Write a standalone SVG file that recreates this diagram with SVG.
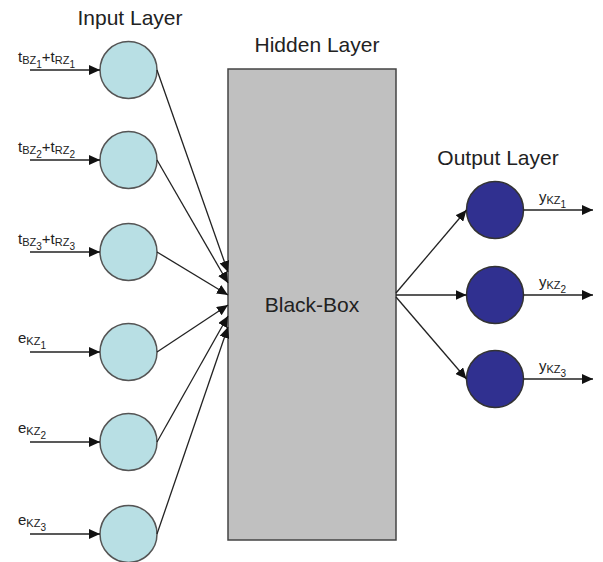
<svg xmlns="http://www.w3.org/2000/svg" width="603" height="562" viewBox="0 0 603 562">
<defs>
<style>
.t{font-family:"Liberation Sans",Arial,sans-serif;fill:#222}
.title{font-size:21px;text-anchor:middle}
.lbl{font-size:15px}
.s1{font-size:11px}
.s2{font-size:10px}
.in{fill:#b8dfe4;stroke:#555;stroke-width:1.5}
.out{fill:#303090;stroke:#333;stroke-width:1.5}
.box{fill:#c0c0c0;stroke:#444;stroke-width:1.5}
.c line{stroke:#222;stroke-width:1.3;marker-end:url(#ah)}
</style>
<marker id="ah" markerUnits="userSpaceOnUse" markerWidth="11" markerHeight="10" refX="11" refY="5" orient="auto">
<path d="M0,0 L11,5 L0,10 z" fill="#111"/>
</marker>
</defs>
<rect width="603" height="562" fill="#fff"/>
<text class="t title" x="130" y="25">Input Layer</text>
<text class="t title" x="317" y="52">Hidden Layer</text>
<text class="t title" x="498" y="165">Output Layer</text>
<g id="hidden"><rect class="box" x="228" y="69" width="168" height="471"/><text class="t title" x="312" y="312">Black-Box</text></g>
<g id="in1"><circle class="in" cx="128.5" cy="70" r="28.5"/></g>
<g id="in2"><circle class="in" cx="128.5" cy="160" r="28.5"/></g>
<g id="in3"><circle class="in" cx="128.5" cy="252" r="28.5"/></g>
<g id="in4"><circle class="in" cx="128.5" cy="352" r="28.5"/></g>
<g id="in5"><circle class="in" cx="128.5" cy="442" r="28.5"/></g>
<g id="in6"><circle class="in" cx="128.5" cy="534" r="28.5"/></g>
<g id="out1"><circle class="out" cx="495" cy="210" r="28.5"/></g>
<g id="out2"><circle class="out" cx="495" cy="295" r="28.5"/></g>
<g id="out3"><circle class="out" cx="495" cy="379" r="28.5"/></g>
<g id="labels">
<text class="t lbl" x="18" y="62">t<tspan class="s1" dy="2">BZ</tspan><tspan class="s2" dy="4">1</tspan><tspan dy="-6">+t</tspan><tspan class="s1" dy="2">RZ</tspan><tspan class="s2" dy="4">1</tspan></text>
<text class="t lbl" x="18" y="152">t<tspan class="s1" dy="2">BZ</tspan><tspan class="s2" dy="4">2</tspan><tspan dy="-6">+t</tspan><tspan class="s1" dy="2">RZ</tspan><tspan class="s2" dy="4">2</tspan></text>
<text class="t lbl" x="18" y="244">t<tspan class="s1" dy="2">BZ</tspan><tspan class="s2" dy="4">3</tspan><tspan dy="-6">+t</tspan><tspan class="s1" dy="2">RZ</tspan><tspan class="s2" dy="4">3</tspan></text>
<text class="t lbl" x="18" y="343">e<tspan class="s1" dy="2">KZ</tspan><tspan class="s2" dy="4">1</tspan></text>
<text class="t lbl" x="18" y="433">e<tspan class="s1" dy="2">KZ</tspan><tspan class="s2" dy="4">2</tspan></text>
<text class="t lbl" x="18" y="525">e<tspan class="s1" dy="2">KZ</tspan><tspan class="s2" dy="4">3</tspan></text>
<text class="t lbl" x="539" y="202">y<tspan class="s1" dy="2">KZ</tspan><tspan class="s2" dy="4">1</tspan></text>
<text class="t lbl" x="539" y="287">y<tspan class="s1" dy="2">KZ</tspan><tspan class="s2" dy="4">2</tspan></text>
<text class="t lbl" x="539" y="371">y<tspan class="s1" dy="2">KZ</tspan><tspan class="s2" dy="4">3</tspan></text>
</g>
<g id="connectors" class="c">
<line x1="30" y1="70" x2="100" y2="70"/>
<line x1="30" y1="160" x2="100" y2="160"/>
<line x1="30" y1="252" x2="100" y2="252"/>
<line x1="30" y1="352" x2="100" y2="352"/>
<line x1="30" y1="442" x2="100" y2="442"/>
<line x1="30" y1="534" x2="100" y2="534"/>
<line x1="157" y1="70" x2="228" y2="272"/>
<line x1="157" y1="160" x2="228" y2="283"/>
<line x1="157" y1="252" x2="228" y2="295"/>
<line x1="157" y1="352" x2="228" y2="305"/>
<line x1="157" y1="442" x2="228" y2="316"/>
<line x1="157" y1="534" x2="228" y2="327"/>
<line x1="396" y1="293" x2="466.5" y2="210"/>
<line x1="396" y1="295" x2="466.5" y2="295"/>
<line x1="396" y1="297" x2="466.5" y2="379"/>
<line x1="523.5" y1="210" x2="593" y2="210"/>
<line x1="523.5" y1="295" x2="593" y2="295"/>
<line x1="523.5" y1="379" x2="593" y2="379"/>
</g>
</svg>
